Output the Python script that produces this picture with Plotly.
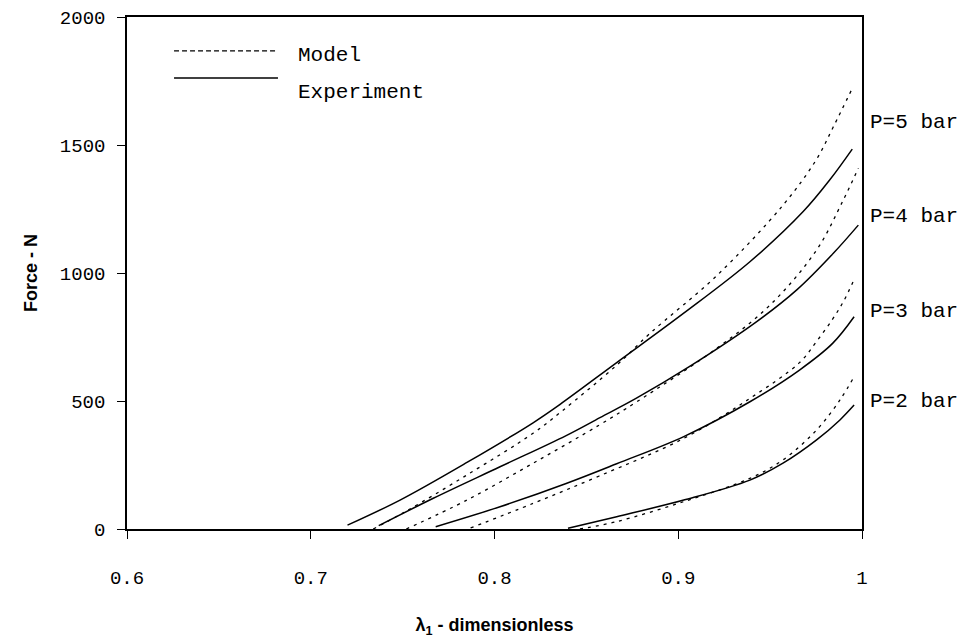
import plotly.graph_objects as go

# ---- data ----
lam_exp5 = [0.720, 0.7486, 0.785, 0.821, 0.8357, 0.8665, 0.9028, 0.939, 0.968, 0.9826, 0.9947]
F_exp5 = [15, 113, 260, 415, 487, 650, 842, 1044, 1240, 1365, 1484]
lam_mod5 = [0.734, 0.752, 0.785, 0.821, 0.8366, 0.8665, 0.8846, 0.921, 0.957, 0.975, 0.9844, 0.9947]
F_mod5 = [0, 70, 211, 374, 460, 640, 764, 990, 1265, 1441, 1571, 1721]

lam_exp4 = [0.737, 0.7667, 0.803, 0.839, 0.8574, 0.877, 0.906, 0.9427, 0.9645, 0.9844, 0.998]
F_exp4 = [13, 120, 243, 365, 435, 510, 634, 810, 934, 1077, 1187]
lam_mod4 = [0.752, 0.785, 0.821, 0.857, 0.877, 0.921, 0.95, 0.9753, 0.9898, 0.998]
F_mod4 = [0, 113, 257, 406, 495, 706, 875, 1090, 1285, 1409]

lam_exp3 = [0.768, 0.803, 0.839, 0.8665, 0.903, 0.939, 0.966, 0.984, 0.9957]
F_exp3 = [9, 87, 178, 255, 361, 497, 621, 725, 829]
lam_mod3 = [0.787, 0.821, 0.857, 0.903, 0.939, 0.966, 0.975, 0.984, 0.99, 0.996]
F_mod3 = [4, 100, 207, 354, 510, 650, 730, 820, 890, 979]

lam_exp2 = [0.840, 0.8665, 0.903, 0.939, 0.957, 0.9753, 0.988, 0.9957]
F_exp2 = [3, 48, 113, 191, 257, 348, 426, 484]
lam_mod2 = [0.8465, 0.8665, 0.903, 0.939, 0.957, 0.9753, 0.988, 0.9957]
F_mod2 = [0, 29, 107, 198, 270, 387, 504, 595]

pressure_labels = ["P=5 bar", "P=4 bar", "P=3 bar", "P=2 bar"]
label_F = [1586, 1219, 848, 500]

x_tickvals = [0.6, 0.7, 0.8, 0.9, 1.0]
x_ticktext = ["0.6", "0.7", "0.8", "0.9", "1"]
y_tickvals = [0, 500, 1000, 1500, 2000]
y_ticktext = ["0", "500", "1000", "1500", "2000"]

legend_names = ["Model", "Experiment"]

MONO = "Liberation Mono, Courier New, monospace"
SANS = "Liberation Sans, Arial, sans-serif"

fig = go.Figure()

models = [(lam_mod5, F_mod5), (lam_mod4, F_mod4), (lam_mod3, F_mod3), (lam_mod2, F_mod2)]
exps = [(lam_exp5, F_exp5), (lam_exp4, F_exp4), (lam_exp3, F_exp3), (lam_exp2, F_exp2)]

for lx, fy in models:
    fig.add_trace(go.Scatter(x=lx, y=fy, mode="lines", showlegend=False,
                             line=dict(color="black", width=1.3, dash="3px,5px", shape="spline", smoothing=1.0)))
for lx, fy in exps:
    fig.add_trace(go.Scatter(x=lx, y=fy, mode="lines", showlegend=False,
                             line=dict(color="black", width=1.5, shape="spline", smoothing=1.0)))

# pressure labels at right
for txt, fy in zip(pressure_labels, label_F):
    fig.add_annotation(x=1, xref="paper", y=fy, yref="y", text=txt, showarrow=False,
                       xanchor="left", yanchor="middle", xshift=6,
                       font=dict(family=MONO, size=21, color="black"))

# legend drawn as key lines + text
fig.add_shape(type="line", xref="paper", yref="paper", x0=0.064, x1=0.2054, y0=0.934, y1=0.934,
              line=dict(color="black", width=1.2, dash="5px,3px"))
fig.add_shape(type="line", xref="paper", yref="paper", x0=0.064, x1=0.2054, y0=0.881, y1=0.881,
              line=dict(color="black", width=1.5))
fig.add_annotation(x=0.23, y=0.925, xref="paper", yref="paper", text=legend_names[0], showarrow=False,
                   xanchor="left", yanchor="middle", font=dict(family=MONO, size=21, color="black"))
fig.add_annotation(x=0.23, y=0.853, xref="paper", yref="paper", text=legend_names[1], showarrow=False,
                   xanchor="left", yanchor="middle", font=dict(family=MONO, size=21, color="black"))

fig.update_layout(
    width=968, height=639,
    margin=dict(l=127, r=106, t=17, b=110, pad=0, autoexpand=False),
    paper_bgcolor="white", plot_bgcolor="white",
    showlegend=False,
    xaxis=dict(range=[0.6, 1.0], tickvals=x_tickvals, ticktext=x_ticktext, automargin=False,
               showgrid=False, zeroline=False, showline=True, linecolor="black", linewidth=1.5,
               mirror=True, ticks="outside", ticklen=8, tickwidth=1, tickcolor="black",
               ticklabelstandoff=22,
               tickfont=dict(family=MONO, size=19, color="black"),
               title=dict(text="λ<sub>1</sub> - dimensionless", standoff=30,
                          font=dict(family=SANS, size=18, color="black", weight="bold"))),
    yaxis=dict(range=[0, 2000], tickvals=y_tickvals, ticktext=y_ticktext, automargin=False,
               showgrid=False, zeroline=False, showline=True, linecolor="black", linewidth=1.5,
               mirror=True, ticks="outside", ticklen=8, tickwidth=1, tickcolor="black",
               ticklabelstandoff=8,
               tickfont=dict(family=MONO, size=19, color="black"),
               title=dict(text="Force - N", standoff=18,
                          font=dict(family=SANS, size=18, color="black", weight="bold"))),
)

fig.write_html("out.html")
